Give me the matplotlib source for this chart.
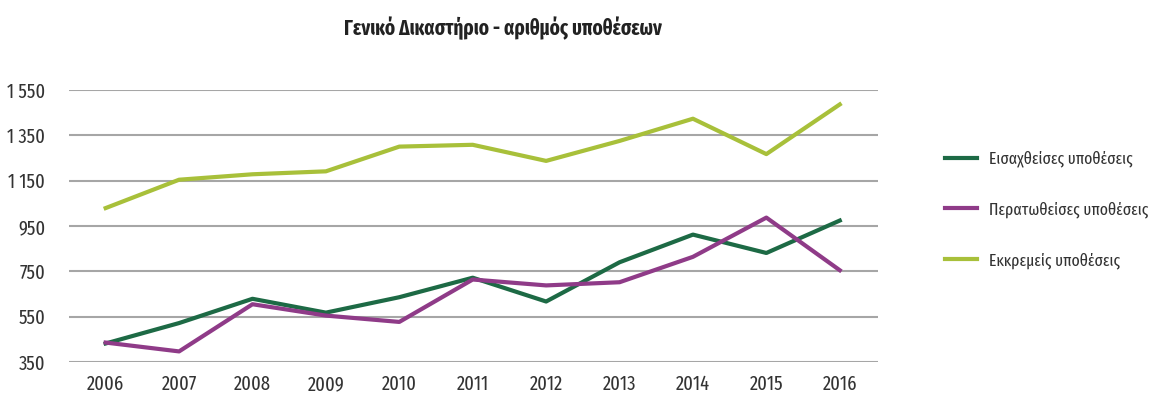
import matplotlib.pyplot as plt
from matplotlib.ticker import FuncFormatter

years = [2006, 2007, 2008, 2009, 2010, 2011, 2012, 2013, 2014, 2015, 2016]
new_cases = [432, 522, 629, 568, 636, 722, 617, 790, 912, 831, 974]
completed = [436, 397, 605, 555, 527, 714, 688, 702, 814, 987, 755]
pending = [1029, 1154, 1178, 1191, 1300, 1308, 1237, 1325, 1423, 1267, 1486]
labels = ['Εισαχθείσες υποθέσεις', 'Περατωθείσες υποθέσεις', 'Εκκρεμείς υποθέσεις']
yticks = [350, 550, 750, 950, 1150, 1350, 1550]

plt.rcParams['font.family'] = ['Fira Sans Extra Condensed', 'DejaVu Sans']

fig = plt.figure(figsize=(11.59, 4.05), dpi=100)
ax = fig.add_axes([0.0595, 0.106, 0.698, 0.672])

ax.plot(years, new_cases, color='#1d6a45', lw=3, label=labels[0])
ax.plot(years, completed, color='#8f3b88', lw=3, label=labels[1])
ax.plot(years, pending, color='#a8c03a', lw=3, label=labels[2])

ax.set_xlim(2005.5, 2016.52)
ax.set_ylim(350, 1550)
ax.set_yticks(yticks)
ax.set_xticks(years)
ax.yaxis.set_major_formatter(FuncFormatter(lambda v, p: f'{int(v):,}'.replace(',', ' ')))
ax.grid(axis='y', color='#a6a6a6', lw=1.5)
ax.set_axisbelow(True)
for s in ax.spines.values():
    s.set_visible(False)
ax.tick_params(length=0, labelsize=14.5, colors='#333333')
ax.tick_params(axis='y', pad=17)
ax.tick_params(axis='x', pad=9)

fig.text(0.434, 0.93, 'Γενικό Δικαστήριο - αριθμός υποθέσεων', ha='center', va='center',
         fontsize=15, fontweight='bold', color='#222222')

fig.legend(loc='upper left', bbox_to_anchor=(0.8154, 0.6284), frameon=False, fontsize=12.3,
           borderpad=0, borderaxespad=0, handlelength=1.87, handletextpad=0.72,
           labelspacing=2.0, labelcolor='#333333')

fig.savefig('out.png', dpi=100)
